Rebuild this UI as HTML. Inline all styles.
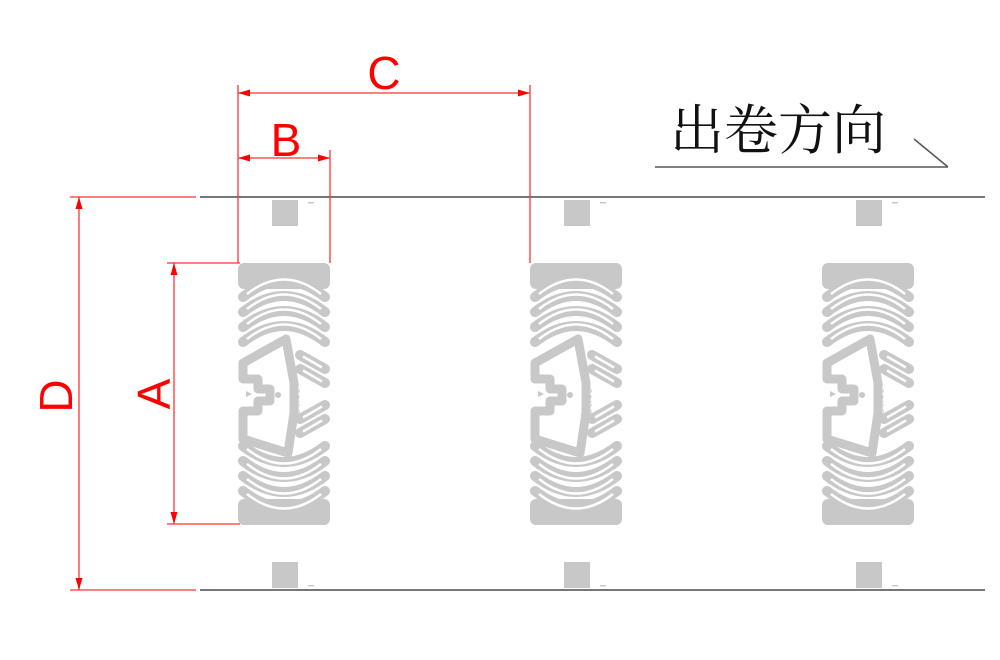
<!DOCTYPE html>
<html><head><meta charset="utf-8"><style>
html,body{margin:0;padding:0;background:#fff;width:1000px;height:660px;overflow:hidden}
svg{display:block}
</style></head><body>
<svg width="1000" height="660" viewBox="0 0 1000 660" xmlns="http://www.w3.org/2000/svg">
<defs>
<g id="tag">
  <rect x="0" y="0" width="92" height="26" rx="6" fill="#c8c8c8"/>
  <rect x="0" y="236" width="92" height="26" rx="6" fill="#c8c8c8"/>
  <g fill="none" stroke-linecap="round" stroke-linejoin="round">
    <g stroke="#c8c8c8" stroke-width="10">
      <path d="M5,34 Q46,2 87,34"/>
      <path d="M5,49 Q46,17 87,49"/>
      <path d="M5,64 Q46,32 87,64"/>
      <path d="M5,79 Q46,47 87,79"/>
      <path d="M5,228 Q46,260 87,228"/>
      <path d="M5,213 Q46,245 87,213"/>
      <path d="M5,198 Q46,230 87,198"/>
      <path d="M5,183 Q46,215 87,183"/>
      <path d="M62,92 L87,106"/>
      <path d="M62,106 L87,120"/>
      <path d="M62,170 L87,156"/>
      <path d="M62,156 L87,142"/>
    </g>
    <g stroke="#fff" stroke-width="2.5" stroke-linecap="butt">
      <path d="M9,31 Q46,2 83,31"/>
      <path d="M9,46 Q46,17 83,46"/>
      <path d="M9,61 Q46,32 83,61"/>
      <path d="M9,76 Q46,47 83,76"/>
      <path d="M9,231 Q46,260 83,231"/>
      <path d="M9,216 Q46,245 83,216"/>
      <path d="M9,201 Q46,230 83,201"/>
      <path d="M9,186 Q46,215 83,186"/>
      <path d="M65,93.5 L84,104.5"/>
      <path d="M65,107.5 L84,118.5"/>
      <path d="M65,168.5 L84,157.5"/>
      <path d="M65,154.5 L84,143.5"/>
    </g>
    <path d="M5,100 L48,76 L56,120 L56,150 L50,190 L5,176 L5,148 L20,148 L20,138 L32,138 L32,126 L20,126 L20,116 L5,116 Z" stroke="#c8c8c8" stroke-width="9"/>
  </g>
  <polygon points="8,128 14,131 8,134" fill="#c8c8c8"/>
  <circle cx="40" cy="132" r="3" fill="#c8c8c8"/>
  <text x="0" y="0" transform="translate(62,156) rotate(-90)" font-family="Liberation Sans, sans-serif" font-size="7" fill="#c8c8c8">TG-074-1</text>
</g>
</defs>

<line x1="200" y1="197" x2="985" y2="197" stroke="#777" stroke-width="2"/>
<line x1="200" y1="590" x2="985" y2="590" stroke="#777" stroke-width="2"/>
<line x1="655" y1="167" x2="948" y2="167" stroke="#555" stroke-width="1.5"/>
<line x1="914" y1="139" x2="948" y2="167" stroke="#555" stroke-width="1.5"/>
<text x="670" y="149" font-family="Liberation Serif, 'Noto Serif CJK SC', serif" font-size="54" fill="#111">出卷方向</text>

<g transform="translate(238,263)"><use href="#tag"/></g>
<g transform="translate(530,263)"><use href="#tag"/></g>
<g transform="translate(822,263)"><use href="#tag"/></g>
<g fill="#c8c8c8">
<rect x="272" y="200" width="26" height="26"/><rect x="564" y="200" width="26" height="26"/><rect x="856" y="200" width="26" height="26"/>
<rect x="308" y="202" width="6" height="1.5"/><rect x="600" y="202" width="6" height="1.5"/><rect x="892" y="202" width="6" height="1.5"/>
<rect x="272" y="562" width="26" height="26"/><rect x="564" y="562" width="26" height="26"/><rect x="856" y="562" width="26" height="26"/>
<rect x="308" y="585" width="6" height="1.5"/><rect x="600" y="585" width="6" height="1.5"/><rect x="892" y="585" width="6" height="1.5"/>
</g>

<g stroke="#f33" stroke-width="1.3" fill="none">
  <line x1="70" y1="197" x2="196" y2="197"/>
  <line x1="70" y1="590" x2="196" y2="590"/>
  <line x1="79" y1="197" x2="79" y2="590"/>
  <line x1="167" y1="263" x2="240" y2="263"/>
  <line x1="167" y1="524" x2="240" y2="524"/>
  <line x1="174" y1="263" x2="174" y2="524"/>
  <line x1="238" y1="85" x2="238" y2="263"/>
  <line x1="330" y1="150" x2="330" y2="263"/>
  <line x1="530" y1="85" x2="530" y2="263"/>
  <line x1="238" y1="93" x2="530" y2="93"/>
  <line x1="238" y1="158" x2="330" y2="158"/>
</g>
<g fill="#f00">
  <polygon points="79,197 75.5,209 82.5,209"/>
  <polygon points="79,590 75.5,578 82.5,578"/>
  <polygon points="174,263 170.5,275 177.5,275"/>
  <polygon points="174,524 170.5,512 177.5,512"/>
  <polygon points="238,93 250,89.5 250,96.5"/>
  <polygon points="530,93 518,89.5 518,96.5"/>
  <polygon points="238,158 250,154.5 250,161.5"/>
  <polygon points="330,158 318,154.5 318,161.5"/>
</g>
<g font-family="Liberation Sans, sans-serif" fill="#f00" font-size="46">
  <text x="384" y="89" text-anchor="middle">C</text>
  <text x="286" y="156" text-anchor="middle">B</text>
  <text transform="translate(72,396) rotate(-90)" text-anchor="middle">D</text>
  <text transform="translate(170,394) rotate(-90)" text-anchor="middle">A</text>
</g>
</svg>
</body></html>
